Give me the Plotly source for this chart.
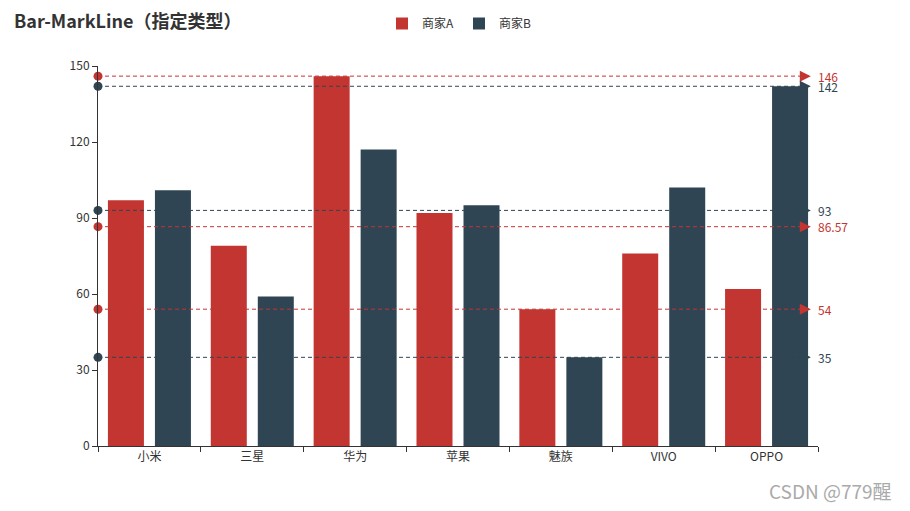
import plotly.graph_objects as go

categories = ['小米', '三星', '华为', '苹果', '魅族', 'VIVO', 'OPPO']
series_a = [97, 79, 146, 92, 54, 76, 62]
series_b = [101, 59, 117, 95, 35, 102, 142]
series_names = ['商家A', '商家B']
colors = ['#c23531', '#2f4554']
font_family = 'Noto Sans CJK SC, Microsoft YaHei, sans-serif'

fig = go.Figure()
for name, vals, col in zip(series_names, [series_a, series_b], colors):
    fig.add_trace(go.Bar(x=categories, y=vals, name=name, marker_color=col,
                         marker_line_width=0))

# mark lines: max, min, average for each series
for name, vals, col in zip(series_names, [series_a, series_b], colors):
    avg = sum(vals) / len(vals)
    for v in [max(vals), min(vals), avg]:
        fig.add_trace(go.Scatter(x=[0, 0.99], y=[v, v], xaxis='x2', mode='lines+markers',
                                 line=dict(color=col, width=1, dash='4px,3px'),
                                 marker=dict(symbol=['circle', 'arrow-right'], size=[9, 11],
                                             color=col, line_width=0, opacity=1),
                                 opacity=1, cliponaxis=False, showlegend=False,
                                 hoverinfo='skip'))
        label = f'{v:.2f}'.rstrip('0').rstrip('.')
        fig.add_annotation(x=1, xref='paper', y=v, yref='y', text=label, showarrow=False,
                           xanchor='left', xshift=-2, font=dict(color=col, size=12,
                                                                family=font_family))

# watermark
fig.add_annotation(x=1.106, xref='paper', y=-0.158, yref='paper', showarrow=False,
                   xanchor='right', yanchor='bottom', text='CSDN @779醒',
                   font=dict(size=19, color='#aaa', family=font_family))

# page body has an 8px margin, so the figure is shifted by 8px
fig.update_layout(
    width=902, height=503,
    margin=dict(l=90, r=92, t=58, b=65),
    plot_bgcolor='white', paper_bgcolor='white',
    font=dict(family=font_family, size=12, color='#333'),
    title=dict(text='<b>Bar-MarkLine（指定类型）</b>', x=6 / 902, xanchor='left',
               xref='container', y=1 - 14 / 503, yref='container', yanchor='middle',
               font=dict(size=18, color='#333', family=font_family)),
    barmode='group', bargap=0.086, bargroupgap=0.234,
    legend=dict(orientation='h', x=0.5, xanchor='center', xref='container',
                y=1 - 1 / 503, yref='container', yanchor='top',
                font=dict(size=12, color='#333'), itemwidth=30),
    xaxis=dict(showline=True, linecolor='#333', ticks='outside', ticklen=5,
               tickcolor='#333', tickson='boundaries', showgrid=False),
    xaxis2=dict(overlaying='x', range=[0, 1], visible=False),
    yaxis=dict(range=[0, 150], dtick=30, showline=True, linecolor='#333',
               ticks='outside', ticklen=5, tickcolor='#333', showgrid=False,
               zeroline=False),
)

fig.write_html('out.html')
